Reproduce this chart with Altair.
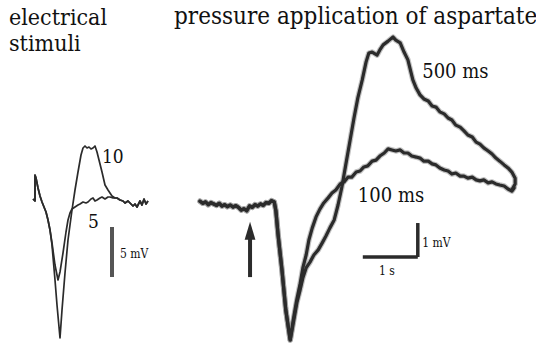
import altair as alt
import pandas as pd

# ---------------- pressure application of aspartate (time in s, potential in mV)
# common pre-stimulus baseline and downstroke
BASE_T = [0.00, 0.05, 0.10, 0.15, 0.20, 0.25, 0.30, 0.35, 0.40, 0.45, 0.50, 0.55, 0.60, 0.65,
          0.70, 0.75, 0.80, 0.85, 0.90, 0.95, 1.00, 1.05, 1.10, 1.15, 1.20, 1.25, 1.30, 1.35,
          1.38, 1.42, 1.49, 1.56, 1.64]
BASE_MV = [0.08, 0.02, 0.06, -0.02, 0.04, 0.00, -0.04, 0.02, -0.06, -0.02, -0.08, -0.03, -0.09, -0.05,
           -0.10, -0.18, -0.14, -0.20, -0.06, -0.10, -0.02, -0.06, 0.00, -0.04, 0.04, 0.02, 0.10, 0.06,
           -0.20, -0.91, -1.94, -3.12, -4.00]

# 100 ms application
T100 = [1.69, 1.76, 1.82, 1.87, 1.93, 1.98, 2.04, 2.11, 2.18, 2.25, 2.33, 2.40, 2.47, 2.55, 2.62,
        2.69, 2.76, 2.84, 2.91, 2.98, 3.05, 3.13, 3.20, 3.27, 3.35, 3.42, 3.49, 3.56, 3.64, 3.71,
        3.78, 3.85, 3.93, 4.00, 4.07, 4.15, 4.22, 4.29, 4.36, 4.44, 4.51, 4.58, 4.65, 4.73, 4.80,
        4.87, 4.95, 5.02, 5.09, 5.16, 5.24, 5.31, 5.38, 5.45, 5.53, 5.60, 5.67, 5.71]
MV100 = [-3.47, -2.82, -2.35, -1.88, -1.50, -1.06, -0.71, -0.38, -0.15, 0.03, 0.18, 0.32, 0.41, 0.59, 0.65,
         0.79, 0.79, 0.94, 0.97, 1.09, 1.12, 1.26, 1.29, 1.41, 1.50, 1.62, 1.59, 1.56, 1.59, 1.50,
         1.50, 1.41, 1.38, 1.35, 1.26, 1.26, 1.18, 1.15, 1.06, 1.00, 0.97, 0.88, 0.91, 0.82, 0.82,
         0.76, 0.79, 0.71, 0.68, 0.71, 0.62, 0.65, 0.59, 0.56, 0.53, 0.44, 0.38, 0.47]

# 500 ms application
T500 = [1.69, 1.76, 1.82, 1.87, 1.93, 2.00, 2.07, 2.15, 2.22, 2.29, 2.36, 2.44, 2.51, 2.58, 2.65,
        2.73, 2.80, 2.87, 2.95, 3.02, 3.07, 3.13, 3.22, 3.27, 3.33, 3.42, 3.51, 3.56, 3.64, 3.71,
        3.78, 3.87, 3.93, 4.00, 4.07, 4.15, 4.22, 4.29, 4.36, 4.44, 4.51, 4.58, 4.65, 4.73, 4.80,
        4.87, 4.95, 5.02, 5.09, 5.16, 5.24, 5.31, 5.38, 5.45, 5.53, 5.60, 5.67, 5.73, 5.73, 5.67]
MV500 = [-3.56, -2.91, -2.53, -2.18, -1.88, -1.71, -1.50, -1.35, -1.15, -0.94, -0.71, -0.47, -0.03, 0.50, 1.15,
         1.88, 2.53, 3.12, 3.65, 4.18, 4.44, 4.47, 4.38, 4.53, 4.68, 4.79, 4.91, 4.82, 4.74, 4.47,
         4.24, 3.65, 3.41, 3.21, 3.09, 3.03, 2.88, 2.85, 2.71, 2.65, 2.53, 2.47, 2.32, 2.26, 2.15,
         2.03, 1.97, 1.82, 1.76, 1.65, 1.56, 1.47, 1.35, 1.26, 1.15, 1.06, 0.94, 0.76, 0.59, 0.41]

# ---------------- electrical stimuli (time in ms, potential in mV)
STIM_T = [0.0, 1.0, 1.0, 1.5, 2.5, 3.5, 4.5, 5.5, 6.5, 7.5, 8.5]
STIM_MV = [-0.1, -0.3, 2.3, 2.0, 1.0, 0.2, -0.4, -0.9, -1.4, -2.2, -3.2]

STIM5_T = [9.5, 11.0, 12.5, 13.5, 15.0, 16.5, 17.5, 18.5, 19.5, 21.0, 22.5, 23.5, 25.0, 26.5, 27.5,
           29.0, 30.0, 31.0, 32.0, 33.5, 34.5, 36.0, 37.5, 38.5, 40.0, 42.0]
STIM5_MV = [-4.5, -6.7, -8.2, -7.4, -5.5, -3.4, -2.2, -1.5, -1.1, -0.9, -0.7, -0.6, -0.4, -0.5, -0.4,
            -0.1, 0.0, -0.3, -0.2, 0.0, 0.1, -0.1, 0.1, 0.1, 0.0, 0.0]

STIM10_T = [9.5, 11.0, 12.0, 13.5, 14.5, 16.0, 17.5, 19.5, 21.0, 22.5, 24.0, 25.0, 26.0, 27.0, 28.0,
            29.0, 30.0, 31.0, 32.0, 33.0, 34.5, 36.0, 37.5, 39.5, 41.0, 42.0]
STIM10_MV = [-4.7, -8.2, -10.7, -14.0, -11.2, -7.5, -4.2, -1.2, 0.8, 2.6, 4.3, 5.0, 5.2, 5.0, 5.1,
             4.9, 5.0, 5.2, 4.6, 3.8, 2.6, 1.3, 0.8, 0.2, 0.0, 0.0]

STIM_TAIL_T = [43.5, 45.0, 46.0, 47.5, 48.5, 50.0, 51.0, 52.0, 53.5, 54.5, 55.5, 56.5, 57.5]
STIM_TAIL_MV = [-0.2, -0.3, -0.5, -0.3, -0.5, -0.8, -0.6, -0.9, -0.3, -0.7, -0.1, -0.6, -0.3]

# labels
ASP_LABELS = ["500 ms", "100 ms"]
ASP_LABEL_T = [4.04, 2.87]
ASP_LABEL_MV = [3.71, 0.06]
STIM_LABELS = ["10", "5"]
STIM_LABEL_T = [34.5, 27.5]
STIM_LABEL_MV = [3.5, -3.0]

# scale bars and stimulus marker
ASP_BAR_T = [2.96, 3.96]        # 1 s
ASP_BAR_MV = [-1.56, -0.56]     # 1 mV
STIM_BAR_T = 39.5
STIM_BAR_MV = [-2.9, -7.9]      # 5 mV
ARROW_T = 0.91
ARROW_MV = [-2.15, -0.91, -0.79]

INK = "#2b2b2b"
SERIF = "'DejaVu Serif Condensed', 'DejaVu Serif', serif"

X_R = alt.Scale(domain=[-3.636, 6.109], nice=False, zero=False)
Y_R = alt.Scale(domain=[-4.324, 6.0], nice=False, zero=False)
X_L = alt.Scale(domain=[-16.5, 251.5], nice=False, zero=False)
Y_L = alt.Scale(domain=[-15.3, 19.8], nice=False, zero=False)


def frame(name, t, v):
    return pd.DataFrame({"t": t, "v": v, "trace": name, "i": list(range(len(t)))})


asp = pd.concat([
    frame("100 ms", BASE_T + T100, BASE_MV + MV100),
    frame("500 ms", BASE_T + T500, BASE_MV + MV500),
])
stim = pd.concat([
    frame("5", STIM_T + STIM5_T + STIM_TAIL_T, STIM_MV + STIM5_MV + STIM_TAIL_MV),
    frame("10", STIM_T + STIM10_T + STIM_TAIL_T, STIM_MV + STIM10_MV + STIM_TAIL_MV),
])


def xr(field="t"):
    return alt.X(f"{field}:Q", scale=X_R, axis=None)


def yr(field="v"):
    return alt.Y(f"{field}:Q", scale=Y_R, axis=None)


def xl(field="t"):
    return alt.X(f"{field}:Q", scale=X_L, axis=None)


def yl(field="v"):
    return alt.Y(f"{field}:Q", scale=Y_L, axis=None)


# soft halo under the noisy recordings, then the trace itself
asp_halo = alt.Chart(asp).mark_line(
    color="#777", strokeWidth=5.5, opacity=0.45, strokeJoin="round", strokeCap="round"
).encode(x=xr(), y=yr(), detail="trace:N", order="i:Q")

asp_lines = alt.Chart(asp).mark_line(
    color=INK, strokeWidth=3.2, strokeJoin="round", strokeCap="round"
).encode(x=xr(), y=yr(), detail="trace:N", order="i:Q")

asp_text = alt.Chart(pd.DataFrame({"t": ASP_LABEL_T, "v": ASP_LABEL_MV, "label": ASP_LABELS})).mark_text(
    align="left", baseline="alphabetic", font=SERIF, fontSize=20, color="#111"
).encode(x=xr(), y=yr(), text="label:N")

bars = pd.DataFrame({
    "t": [ASP_BAR_T[0], ASP_BAR_T[1]],
    "t2": [ASP_BAR_T[1], ASP_BAR_T[1]],
    "v": [ASP_BAR_MV[0], ASP_BAR_MV[0]],
    "v2": [ASP_BAR_MV[0], ASP_BAR_MV[1]],
})
asp_bars = alt.Chart(bars).mark_rule(color=INK, strokeWidth=3.5).encode(
    x=xr(), x2="t2:Q", y=yr(), y2="v2:Q"
)

bar_labels = pd.DataFrame({
    "t": [4.04, 3.40],
    "v": [-1.27, -2.09],
    "label": ["1 mV", "1 s"],
})
asp_bar_text = alt.layer(
    alt.Chart(bar_labels.iloc[[0]]).mark_text(align="left", baseline="alphabetic", font=SERIF,
                                               fontSize=12, color="#111"),
    alt.Chart(bar_labels.iloc[[1]]).mark_text(align="center", baseline="alphabetic", font=SERIF,
                                               fontSize=12, color="#111"),
).encode(x=xr(), y=yr(), text="label:N")

arrow_df = pd.DataFrame({"t": [ARROW_T], "v": [ARROW_MV[0]], "v2": [ARROW_MV[1]], "vh": [ARROW_MV[2]]})
arrow_shaft = alt.Chart(arrow_df).mark_rule(color=INK, strokeWidth=4).encode(x=xr(), y=yr(), y2="v2:Q")
arrow_head = alt.Chart(arrow_df).mark_point(
    shape="M-0.6,1L0,-1L0.6,1Z", size=324, filled=True, color=INK, opacity=1, strokeWidth=0
).encode(x=xr(), y=yr("vh"))

stim_lines = alt.Chart(stim).mark_line(
    color=INK, strokeWidth=1.7, strokeJoin="round"
).encode(x=xl(), y=yl(), detail="trace:N", order="i:Q")

stim_text = alt.Chart(pd.DataFrame({"t": STIM_LABEL_T, "v": STIM_LABEL_MV, "label": STIM_LABELS})).mark_text(
    align="left", baseline="alphabetic", font=SERIF, fontSize=19, color="#111"
).encode(x=xl(), y=yl(), text="label:N")

stim_bar_df = pd.DataFrame({"t": [STIM_BAR_T], "v": [STIM_BAR_MV[0]], "v2": [STIM_BAR_MV[1]]})
stim_bar = alt.Chart(stim_bar_df).mark_rule(color="#555", strokeWidth=4).encode(x=xl(), y=yl(), y2="v2:Q")
stim_bar_text = alt.Chart(pd.DataFrame({"t": [43.5], "v": [-6.0], "label": ["5 mV"]})).mark_text(
    align="left", baseline="alphabetic", font=SERIF, fontSize=12, color="#111"
).encode(x=xl(), y=yl(), text="label:N")


def heading(text, x, y, size):
    return alt.Chart(pd.DataFrame({"label": [text]})).mark_text(
        align="left", baseline="alphabetic", font=SERIF, fontSize=size, color="#111"
    ).encode(x=alt.value(x), y=alt.value(y), text="label:N")


chart = alt.layer(
    asp_halo, asp_lines, asp_text, asp_bars, asp_bar_text, arrow_shaft, arrow_head,
    stim_lines, stim_text, stim_bar, stim_bar_text,
    heading("electrical", 9, 25, 23),
    heading("stimuli", 9, 51, 23),
    heading("pressure application of aspartate", 174, 24, 24),
).resolve_scale(x="independent", y="independent").properties(
    width=536, height=351, padding=0, autosize=alt.AutoSizeParams(type="none"),
    background="white",
).configure_view(stroke=None)

chart.save("out.html", embed_options={"renderer": "svg", "actions": False})
